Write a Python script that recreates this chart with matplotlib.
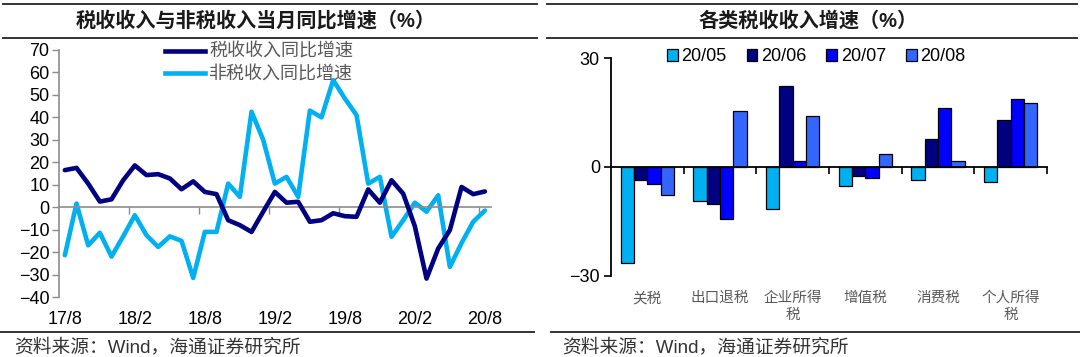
import matplotlib
import numpy as np

matplotlib.use("Agg")
import matplotlib.pyplot as plt  # noqa: E402
from matplotlib.lines import Line2D  # noqa: E402
from matplotlib.patches import Patch  # noqa: E402

plt.rcParams["font.family"] = ["Liberation Sans", "Noto Sans CJK SC"]

# left panel: monthly yoy, 17/8 .. 20/8
months = ["17/8", "18/2", "18/8", "19/2", "19/8", "20/2", "20/8"]
tax = [16.5, 17.5, 10.5, 2.5, 3.5, 12, 18.6, 14.3, 14.7, 12.8, 8, 11.5,
       6.8, 5.8, -5.8, -8, -11, -2, 6.8, 2, 2.4, -6.5, -5.8, -2.7,
       -4, -4.3, 7.9, 2, 12, 6, -8.5, -31.8, -18.4, -10.2, 9, 5.8, 7]
nontax = [-21.4, 1.6, -17, -11.4, -22, -13, -3.6, -12.5, -17.7, -13, -15, -31.5,
          -11, -11, 10.5, 4.6, 42.5, 30, 10.5, 13.5, 4.6, 43, 40, 56.6,
          48.4, 41, 10.5, 13.5, -13.2, -5.8, 2, -2, 5.3, -26.6, -16, -6.5, -1.5]

# right panel: by tax type
cats = ["关税", "出口退税", "企业所得\n税", "增值税", "消费税", "个人所得\n税"]
periods = ["20/05", "20/06", "20/07", "20/08"]
m05 = [-26.5, -9.4, -11.6, -5.3, -3.5, -4.1]
m06 = [-3.5, -10.2, 22.4, -2.6, 7.8, 12.9]
m07 = [-4.7, -14.3, 1.6, -3.0, 16.4, 18.9]
m08 = [-7.8, 15.5, 14.0, 3.7, 1.7, 17.7]
bar_colors = ["#00B0F0", "#000080", "#0000FF", "#3366FF"]

W, H = 1080, 357
fig = plt.figure(figsize=(W / 100, H / 100), dpi=100)


def fx(px):
    return px / W


def fy(py):
    return 1 - py / H


GRAY = "#8c8c8c"
LABEL = "#595959"

# ---- left: line chart
ax1 = fig.add_axes([fx(59), fy(297), fx(431.7), 247 / H])
x = np.arange(len(tax))
ax1.plot(x, tax, color="#000080", lw=3.3, solid_joinstyle="round", solid_capstyle="round", zorder=3)
ax1.plot(x, nontax, color="#00B0F0", lw=3.3, solid_joinstyle="round", solid_capstyle="round", zorder=2)
ax1.set_xlim(-0.5, len(tax) - 0.5)
ax1.set_ylim(-40, 70)
ax1.set_yticks(np.arange(-40, 71, 10))
ax1.tick_params(axis="y", direction="out", length=5, width=1, color=GRAY, labelsize=13, pad=2)
for s in ["top", "right"]:
    ax1.spines[s].set_visible(False)
ax1.spines["left"].set_color(GRAY)
ax1.spines["left"].set_linewidth(1.2)
ax1.spines["bottom"].set_position(("data", 0))
ax1.spines["bottom"].set_color(GRAY)
ax1.spines["bottom"].set_linewidth(1.2)
ax1.set_xticks([])
ax1.set_xticks(np.arange(5.5, len(tax) - 1, 6), minor=True)
ax1.tick_params(axis="x", which="minor", direction="out", length=5, width=1, color=GRAY, labelbottom=False)
sec1 = ax1.secondary_xaxis(0)
sec1.set_xticks(np.arange(0, len(tax), 6), months)
sec1.tick_params(length=0, labelsize=13, pad=10)
sec1.spines["bottom"].set_visible(False)

h = [Line2D([], [], color="#000080", lw=3.3), Line2D([], [], color="#00B0F0", lw=3.3)]
ax1.legend(h, ["税收收入同比增速", "非税收入同比增速"], loc="upper left",
           bbox_to_anchor=((165 - 59) / 431.7, (297 - 44) / 247), frameon=False,
           fontsize=13, handlelength=2.2, handletextpad=0.25, labelspacing=0.28,
           borderpad=0, borderaxespad=0, labelcolor=LABEL)

# ---- right: grouped bars
ax2 = fig.add_axes([fx(611), fy(275.7), fx(436), 217.4 / H])
xc = np.arange(len(cats))
bw = 0.183
for k, (vals, c) in enumerate(zip([m05, m06, m07, m08], bar_colors)):
    ax2.bar(xc + (k - 1.5) * bw, vals, width=bw, color=c, edgecolor="black", linewidth=0.9, zorder=2)
ax2.set_xlim(-0.5, len(cats) - 0.5)
ax2.set_ylim(-30, 30)
ax2.set_yticks([-30, 0, 30])
ax2.tick_params(axis="y", direction="out", length=5, width=1.2, labelsize=13, pad=3)
for s in ["top", "right"]:
    ax2.spines[s].set_visible(False)
ax2.spines["left"].set_linewidth(1.3)
ax2.spines["bottom"].set_position(("data", 0))
ax2.spines["bottom"].set_linewidth(1.3)
ax2.spines["bottom"].set_zorder(3)
ax2.set_xticks([])
ax2.set_xticks(np.arange(0.5, len(cats)), minor=True)
ax2.tick_params(axis="x", which="minor", direction="out", length=5, width=1.2, labelbottom=False)
sec2 = ax2.secondary_xaxis(0)
sec2.set_xticks(xc, cats)
sec2.tick_params(length=0, labelsize=10.5, pad=11, labelcolor=LABEL)
sec2.spines["bottom"].set_visible(False)
for t in sec2.get_xticklabels():
    t.set_linespacing(1.3)

ph = [Patch(facecolor=c, edgecolor="black", linewidth=0.9) for c in bar_colors]
ax2.legend(ph, periods, loc="center left", bbox_to_anchor=((667 - 611) / 436, (275.7 - 56.7) / 217.4),
           ncol=4, frameon=False, fontsize=13, handlelength=0.6, handleheight=0.6,
           handletextpad=0.2, columnspacing=1.1, borderpad=0, borderaxespad=0)

# ---- frame lines, titles, sources
for x0, x1 in [(3, 537), (547, 1077)]:
    for yy in (3.5, 38):
        fig.add_artist(Line2D([fx(x0), fx(x1)], [fy(yy), fy(yy)], color="#333333", lw=1.4))
for x0, x1 in [(0, 534), (551, 1080)]:
    fig.add_artist(Line2D([fx(x0), fx(x1)], [fy(332), fy(332)], color="#333333", lw=1.4))

fig.text(fx(256), fy(21), "税收收入与非税收入当月同比增速（%）", ha="center", va="center",
         fontsize=14.5, fontweight="bold", color="#1a1a1a")
fig.text(fx(808), fy(21), "各类税收收入增速（%）", ha="center", va="center",
         fontsize=14.5, fontweight="bold", color="#1a1a1a")
fig.text(fx(14), fy(347), "资料来源：Wind，海通证券研究所", ha="left", va="center", fontsize=13.5, color="#333333")
fig.text(fx(562), fy(347), "资料来源：Wind，海通证券研究所", ha="left", va="center", fontsize=13.5, color="#333333")

fig.savefig("out.png", dpi=100)
